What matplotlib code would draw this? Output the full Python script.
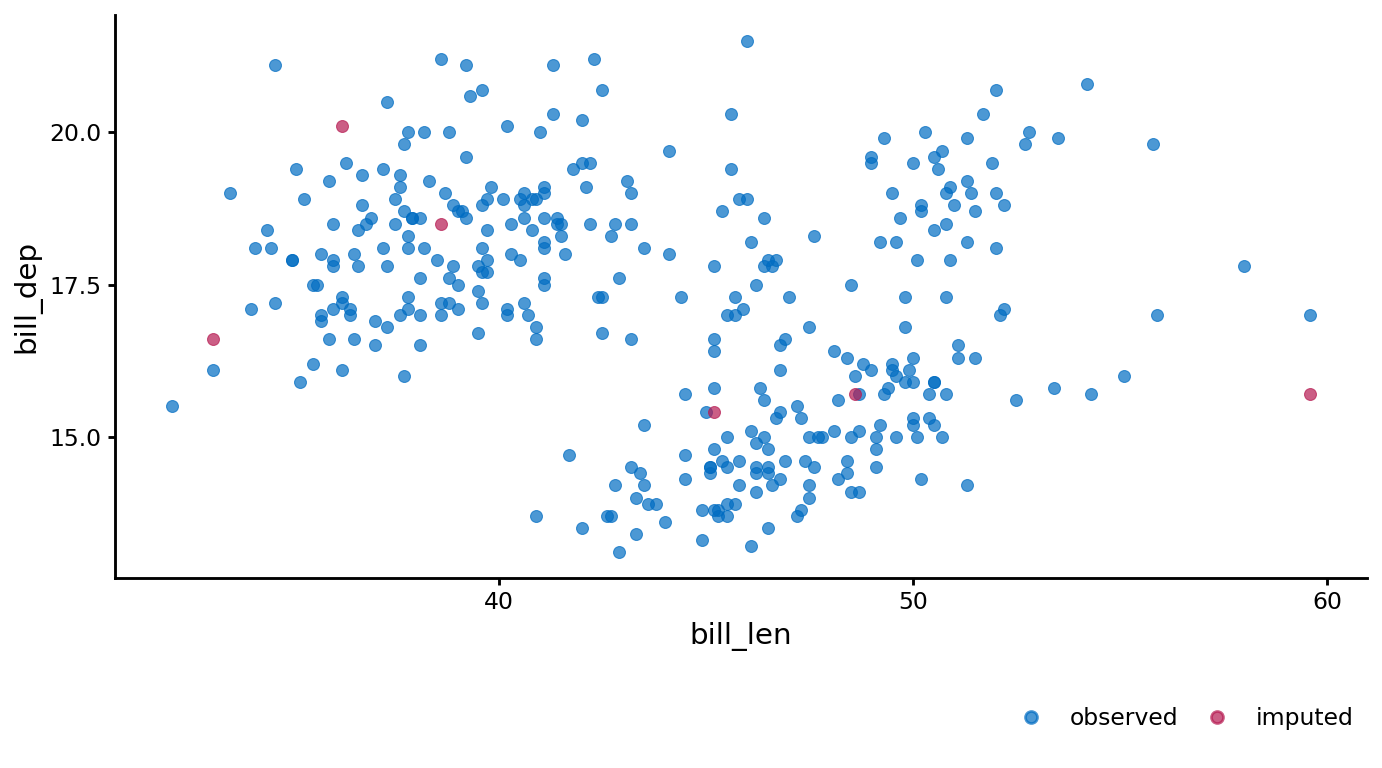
import numpy as np
import matplotlib
matplotlib.use("Agg")
import matplotlib.pyplot as plt
from matplotlib.lines import Line2D

# observed (bill_len, bill_dep) pairs
adelie_len = [39.1, 39.5, 40.3, 36.7, 39.3, 38.9, 39.2, 34.1, 42.0, 37.8, 37.8, 41.1, 38.6, 34.6, 36.6,
              38.7, 42.5, 34.4, 46.0, 37.8, 37.7, 35.9, 38.2, 38.8, 35.3, 40.6, 40.5, 37.9, 40.5, 39.5,
              37.2, 39.5, 40.9, 36.4, 39.2, 38.8, 42.2, 37.6, 39.8, 36.5, 40.8, 36.0, 44.1, 37.0, 39.6,
              41.1, 37.5, 36.0, 42.3, 39.6, 40.1, 35.0, 42.0, 34.5, 41.4, 39.0, 40.6, 36.5, 37.6, 35.7,
              41.3, 37.6, 41.1, 36.4, 41.6, 35.5, 41.1, 35.9, 41.8, 33.5, 39.7, 39.6, 45.8, 35.5, 42.8,
              40.9, 37.2, 36.2, 42.1, 34.6, 42.9, 36.7, 35.1, 37.3, 41.3, 36.3, 36.9, 38.3, 38.9, 35.7,
              41.1, 34.0, 39.6, 36.2, 40.8, 38.1, 40.3, 33.1, 43.2, 35.0, 41.0, 37.7, 37.8, 37.9, 39.7,
              38.6, 38.2, 38.1, 43.2, 38.1, 45.6, 39.7, 42.2, 39.6, 42.7, 38.6, 37.3, 35.7, 41.1, 36.2,
              37.7, 40.2, 41.4, 35.2, 40.6, 38.8, 41.5, 39.0, 44.1, 38.5, 43.1, 36.8, 37.5, 38.1, 41.1,
              35.6, 40.2, 37.0, 39.7, 40.2, 40.6, 32.1, 40.7, 37.3, 39.0, 39.2, 36.6, 36.0, 37.8, 36.0,
              41.5]
adelie_dep = [18.7, 17.4, 18.0, 19.3, 20.6, 17.8, 19.6, 18.1, 20.2, 17.1, 17.3, 17.6, 21.2, 21.1, 17.8,
              19.0, 20.7, 18.4, 21.5, 18.3, 18.7, 19.2, 18.1, 17.2, 18.9, 18.6, 17.9, 18.6, 18.9, 16.7,
              18.1, 17.8, 18.9, 17.0, 21.1, 20.0, 18.5, 19.3, 19.1, 18.0, 18.4, 18.5, 19.7, 16.9, 18.8,
              19.0, 18.9, 17.9, 21.2, 17.7, 18.9, 17.9, 19.5, 18.1, 18.6, 17.5, 18.8, 16.6, 19.1, 16.9,
              21.1, 17.0, 18.2, 17.1, 18.0, 16.2, 19.1, 16.6, 19.4, 19.0, 18.4, 17.2, 18.9, 17.5, 18.5,
              16.8, 19.4, 16.1, 19.1, 17.2, 17.6, 18.8, 19.4, 17.8, 20.3, 19.5, 18.6, 19.2, 18.8, 18.0,
              18.1, 17.1, 18.1, 17.3, 18.9, 18.6, 18.5, 16.1, 18.5, 17.9, 20.0, 16.0, 20.0, 18.6, 18.9,
              17.2, 20.0, 17.0, 19.0, 16.5, 20.3, 17.7, 19.5, 20.7, 18.3, 17.0, 20.5, 17.0, 18.6, 17.2,
              19.8, 17.0, 18.5, 15.9, 19.0, 17.6, 18.3, 17.1, 18.0, 17.9, 19.2, 18.5, 18.5, 17.6, 17.5,
              17.5, 20.1, 16.5, 17.9, 17.1, 17.2, 15.5, 17.0, 16.8, 18.7, 18.6, 18.4, 17.8, 18.1, 17.1,
              18.5]

gentoo_len = [46.1, 50.0, 48.7, 50.0, 47.6, 46.5, 45.4, 46.7, 43.3, 46.8, 40.9, 49.0, 45.5, 48.4, 45.8,
              49.3, 42.0, 49.2, 46.2, 48.7, 50.2, 45.1, 46.5, 46.3, 42.9, 46.1, 44.5, 47.8, 48.2, 50.0,
              47.3, 42.8, 45.1, 59.6, 49.1, 48.4, 42.6, 44.4, 44.0, 48.7, 42.7, 49.6, 45.3, 49.6, 50.5,
              43.6, 45.5, 50.5, 44.9, 45.2, 46.6, 48.5, 45.1, 50.1, 46.5, 45.0, 43.8, 45.5, 43.2, 50.4,
              45.3, 46.2, 45.7, 54.3, 45.8, 49.8, 46.2, 49.5, 43.5, 50.7, 47.7, 46.4, 48.2, 46.5, 46.4,
              48.6, 47.5, 51.1, 45.2, 45.2, 49.1, 52.5, 47.4, 50.0, 44.9, 50.8, 43.4, 51.3, 47.5, 52.1,
              47.5, 52.2, 45.5, 49.5, 44.5, 50.8, 49.4, 46.9, 48.4, 51.1, 48.5, 55.9, 47.2, 49.1, 47.3,
              46.8, 41.7, 53.4, 43.3, 48.1, 50.5, 49.8, 43.5, 51.5, 46.2, 55.1, 44.5, 48.8, 47.2, 46.8,
              50.4, 45.2, 49.9]
gentoo_dep = [13.2, 16.3, 14.1, 15.2, 14.5, 13.5, 14.6, 15.3, 13.4, 15.4, 13.7, 16.1, 13.7, 14.6, 14.6,
              15.7, 13.5, 15.2, 14.5, 15.1, 14.3, 14.5, 14.5, 15.8, 13.1, 15.1, 14.3, 15.0, 14.3, 15.3,
              15.3, 14.2, 14.5, 17.0, 14.8, 16.3, 13.7, 17.3, 13.6, 15.7, 13.7, 16.0, 13.7, 15.0, 15.9,
              13.9, 13.9, 15.9, 13.3, 15.8, 14.2, 14.1, 14.4, 15.0, 14.4, 15.4, 13.9, 15.0, 14.5, 15.3,
              13.8, 14.9, 13.9, 15.7, 14.2, 16.8, 14.4, 16.2, 14.2, 15.0, 15.0, 15.6, 15.6, 14.8, 15.0,
              16.0, 14.2, 16.3, 13.8, 16.4, 14.5, 15.6, 14.6, 15.9, 13.8, 17.3, 14.4, 14.2, 14.0, 17.0,
              15.0, 17.1, 14.5, 16.1, 14.7, 15.7, 15.8, 14.6, 14.4, 16.5, 15.0, 17.0, 15.5, 15.0, 13.8,
              16.1, 14.7, 15.8, 14.0, 15.1, 15.2, 15.9, 15.2, 16.3, 14.1, 16.0, 15.7, 16.2, 13.7, 14.3,
              15.7, 14.8, 16.1]

chinstrap_len = [46.5, 50.0, 51.3, 45.4, 52.7, 45.2, 46.1, 51.3, 46.0, 51.3, 46.6, 51.7, 47.0, 52.0,
                 45.9, 50.5, 50.3, 58.0, 46.4, 49.2, 42.4, 48.5, 43.2, 50.6, 46.7, 52.0, 50.5, 49.5,
                 46.4, 52.8, 40.9, 54.2, 42.5, 51.0, 49.7, 47.5, 47.6, 52.0, 46.9, 53.5, 49.0, 46.2,
                 50.9, 45.5, 50.9, 50.8, 50.1, 49.0, 51.5, 49.8, 48.1, 51.4, 45.7, 50.7, 42.5, 52.2,
                 45.2, 49.3, 50.2, 45.6, 51.9, 46.8, 45.7, 55.8, 43.5, 49.6, 50.8, 50.2]
chinstrap_dep = [17.9, 19.5, 19.2, 18.7, 19.8, 17.8, 18.2, 18.2, 18.9, 19.9, 17.8, 20.3, 17.3, 18.1,
                 17.1, 19.6, 20.0, 17.8, 18.6, 18.2, 17.3, 17.5, 16.6, 19.4, 17.9, 19.0, 18.4, 19.0,
                 17.8, 20.0, 16.6, 20.8, 16.7, 18.8, 18.6, 16.8, 18.3, 20.7, 16.6, 19.9, 19.5, 17.5,
                 19.1, 17.0, 17.9, 18.5, 17.9, 19.6, 18.7, 17.3, 16.4, 19.0, 17.3, 19.7, 17.3, 18.8,
                 16.6, 19.9, 18.8, 19.4, 19.5, 16.5, 17.0, 19.8, 18.1, 18.2, 19.0, 18.7]

# imputed points
imp_len = [33.1, 36.2, 38.6, 45.2, 48.6, 59.6]
imp_dep = [16.6, 20.1, 18.5, 15.4, 15.7, 15.7]

obs_len = adelie_len + gentoo_len + chinstrap_len
obs_dep = adelie_dep + gentoo_dep + chinstrap_dep

col_obs = "#006CC2"
col_imp = "#B61A51"

plt.rcParams["font.family"] = "DejaVu Sans"

fig = plt.figure(figsize=(7.2, 4.0), dpi=192)
ax = fig.add_axes([0.0832, 0.2474, 0.9058, 0.7326])

ax.scatter(obs_len, obs_dep, s=20, color=col_obs, alpha=0.7, edgecolors=col_obs, linewidths=0.4, zorder=2)
ax.scatter(imp_len, imp_dep, s=20, color=col_imp, alpha=0.7, edgecolors=col_imp, linewidths=0.4, zorder=3)

ax.set_xlim(30.725, 60.975)
ax.set_ylim(12.68, 21.92)
ax.set_xticks([40, 50, 60])
ax.set_yticks([15.0, 17.5, 20.0])
ax.set_yticklabels(["15.0", "17.5", "20.0"])

for s in ["top", "right"]:
    ax.spines[s].set_visible(False)
for s in ["left", "bottom"]:
    ax.spines[s].set_linewidth(1.07)
ax.tick_params(width=1.07, length=2.75, labelsize=8.8, colors="black", pad=2.2)

ax.set_xlabel("bill_len", fontsize=11, labelpad=3)
ax.set_ylabel("bill_dep", fontsize=11, labelpad=3)

handles = [Line2D([], [], ls="none", marker="o", ms=4.5, color=col_obs, alpha=0.7, label="observed"),
           Line2D([], [], ls="none", marker="o", ms=4.5, color=col_imp, alpha=0.7, label="imputed")]
fig.legend(handles=handles, loc="lower right", bbox_to_anchor=(0.9943, 0.022), ncol=2,
           frameon=False, fontsize=8.8, handlelength=1.0, handletextpad=1.16, columnspacing=1.12)

fig.savefig("out.png", dpi=192)
